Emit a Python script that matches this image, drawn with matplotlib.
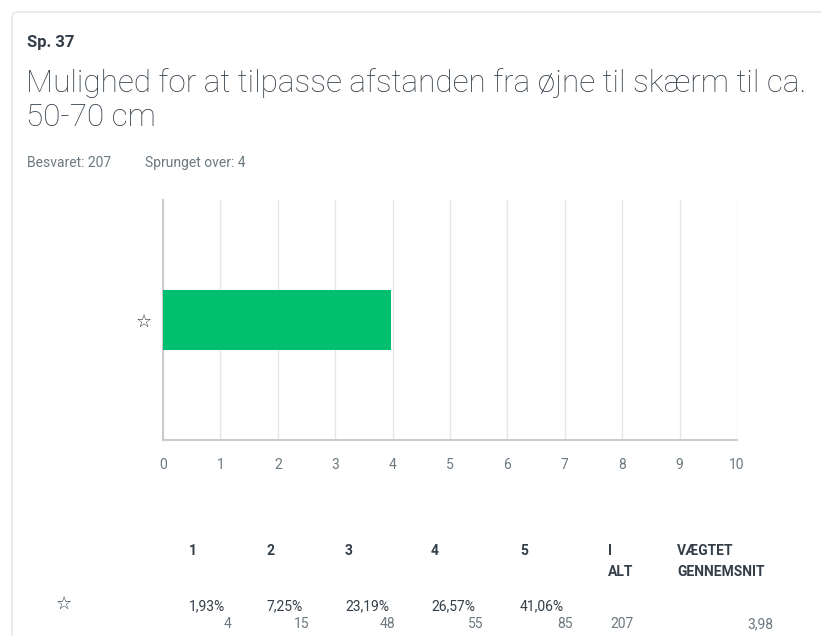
import matplotlib
matplotlib.use("Agg")
import matplotlib.pyplot as plt
from matplotlib.patches import FancyBboxPatch

# survey question summary
question_no = "Sp. 37"
question = "Mulighed for at tilpasse afstanden fra øjne til skærm til ca.\n50-70 cm"
answered = 207
skipped = 4

# rating scale breakdown
scale_labels = ["1", "2", "3", "4", "5"]
shares = ["1,93%", "7,25%", "23,19%", "26,57%", "41,06%"]
counts = [4, 15, 48, 55, 85]
total = 207
weighted_mean = 3.98
row_label = "☆"

x_ticks = list(range(0, 11))

DARK = "#333e48"
GRAY = "#6b787f"
GREEN = "#00bf6f"
FONT = "Roboto"

W, H = 821, 636
fig = plt.figure(figsize=(W / 100, H / 100), dpi=100)
fig.patch.set_facecolor("white")


def fx(px):
    return px / W


def fy(py):
    return 1 - py / H


# card outline, kept behind everything else
card = FancyBboxPatch((fx(12), fy(700)), fx(900), fy(12) - fy(700),
                      boxstyle="round,pad=0,rounding_size=0.008",
                      transform=fig.transFigure, facecolor="white",
                      edgecolor="#e6e8ea", linewidth=1.2, zorder=-10)
fig.patches.append(card)

fig.text(fx(27), fy(43), question_no, fontsize=12, fontweight="bold",
         color=DARK, family=FONT, va="center")
fig.text(fx(26), fy(68), question, fontsize=22.7, fontweight="light",
         color=DARK, family=FONT, va="top", linespacing=1.2)
fig.text(fx(27), fy(163), f"Besvaret: {answered}", fontsize=10,
         color=GRAY, family=FONT, va="center")
fig.text(fx(145), fy(163), f"Sprunget over: {skipped}", fontsize=10,
         color=GRAY, family=FONT, va="center")

# bar chart of weighted mean
ax = fig.add_axes([fx(163), fy(440), fx(737) - fx(163), fy(200) - fy(440)])
ax.set_zorder(1)
ax.barh([0], [weighted_mean], height=0.246, color=GREEN, zorder=3)
ax.set_xlim(0, 10)
ax.set_ylim(-0.5, 0.5)
ax.set_xticks(x_ticks)
ax.set_xticklabels([str(t) for t in x_ticks], fontsize=10, color=GRAY, family=FONT)
ax.set_yticks([0])
ax.set_yticklabels([row_label], fontsize=13, color=DARK, family="DejaVu Sans")
ax.tick_params(axis="x", length=0, pad=13)
ax.tick_params(axis="y", length=0, pad=8)
ax.grid(axis="x", color="#e6e6e6", linewidth=1, zorder=0)
for side in ("top", "right"):
    ax.spines[side].set_visible(False)
ax.spines["left"].set_color("#cccccc")
ax.spines["bottom"].set_color("#cccccc")
ax.spines["left"].set_linewidth(1.5)
ax.spines["bottom"].set_linewidth(1.5)

# summary table
col_left = [189, 266, 345, 431, 520]
col_right = [231, 309, 395, 483, 573]
for lbl, share, cnt, xl, xr in zip(scale_labels, shares, counts, col_left, col_right):
    fig.text(fx(xl), fy(551), lbl, fontsize=10, fontweight="bold", color=DARK,
             family=FONT, va="center")
    fig.text(fx(xl), fy(606), share, fontsize=10, color=DARK, family=FONT, va="center")
    fig.text(fx(xr), fy(624), str(cnt), fontsize=10, color=GRAY, family=FONT,
             va="center", ha="right")

fig.text(fx(608), fy(551), "I", fontsize=10, fontweight="bold", color=DARK,
         family=FONT, va="center")
fig.text(fx(608), fy(572), "ALT", fontsize=10, fontweight="bold", color=DARK,
         family=FONT, va="center")
fig.text(fx(677), fy(551), "VÆGTET", fontsize=10, fontweight="bold", color=DARK,
         family=FONT, va="center")
fig.text(fx(677), fy(572), "GENNEMSNIT", fontsize=10, fontweight="bold", color=DARK,
         family=FONT, va="center")
fig.text(fx(64), fy(604), row_label, fontsize=13, color=DARK, family="DejaVu Sans",
         va="center", ha="center")
fig.text(fx(610), fy(624), str(total), fontsize=10, color=GRAY, family=FONT, va="center")
fig.text(fx(773), fy(624), f"{weighted_mean:.2f}".replace(".", ","), fontsize=10,
         color=GRAY, family=FONT, va="center", ha="right")

fig.savefig("out.png", dpi=100, facecolor="white")
